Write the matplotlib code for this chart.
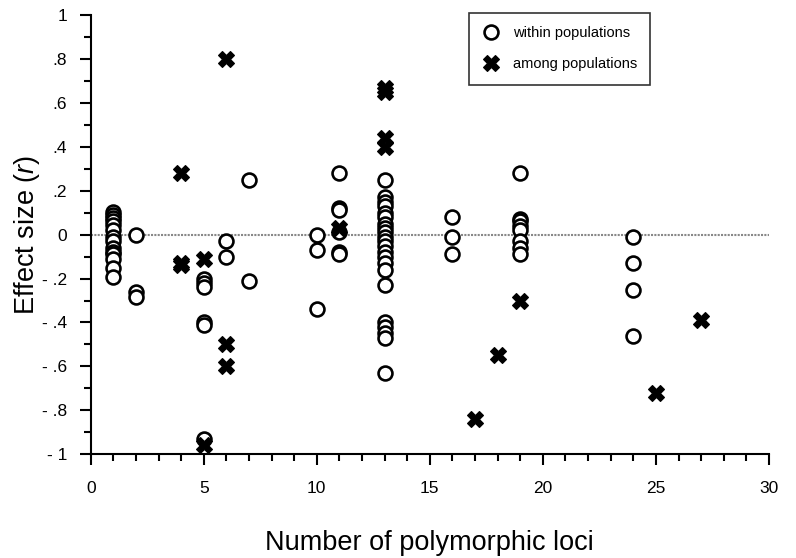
import matplotlib
matplotlib.use("Agg")
import matplotlib.pyplot as plt
from matplotlib.ticker import MultipleLocator, FixedLocator

plt.rcParams['font.family'] = ['Liberation Sans', 'DejaVu Sans']
plt.rcParams['mathtext.fontset'] = 'custom'
plt.rcParams['mathtext.it'] = 'Liberation Sans:italic'
plt.rcParams['mathtext.rm'] = 'Liberation Sans'

# within populations (open circles)
within_x = [1]*14 + [2, 2, 2] + [5]*6 + [6, 6] + [7, 7] + [10, 10, 10] + \
           [11]*6 + [13]*22 + [16, 16, 16] + [19]*8 + [24]*4
within_y = [0.105, 0.09, 0.077, 0.06, 0.045, 0.02, -0.01, -0.03, -0.06, -0.077, -0.09, -0.11, -0.15, -0.195,
            0.0, -0.26, -0.285,
            -0.2, -0.22, -0.24, -0.40, -0.41, -0.93,
            -0.03, -0.10,
            0.25, -0.21,
            0.0, -0.07, -0.34,
            0.28, 0.12, 0.11, 0.01, -0.08, -0.09,
            0.25, 0.17, 0.15, 0.13, 0.10, 0.08, 0.05, 0.03, 0.01, -0.01, -0.03, -0.05, -0.08, -0.10, -0.13, -0.16,
            -0.23, -0.40, -0.42, -0.45, -0.47, -0.63,
            0.08, -0.01, -0.09,
            0.28, 0.07, 0.06, 0.04, 0.02, -0.03, -0.06, -0.09,
            -0.01, -0.13, -0.25, -0.46]

# among populations (filled crosses)
among_x = [4, 4, 4, 5, 5, 6, 6, 6, 11, 13, 13, 13, 13, 17, 18, 19, 25, 27]
among_y = [0.28, -0.13, -0.14, -0.11, -0.96, 0.80, -0.50, -0.60, 0.03,
           0.67, 0.65, 0.44, 0.40, -0.84, -0.55, -0.30, -0.72, -0.39]

x_ticks = [0, 5, 10, 15, 20, 25, 30]
y_ticks = [-1, -0.8, -0.6, -0.4, -0.2, 0, 0.2, 0.4, 0.6, 0.8, 1]
y_ticklabels = ['- 1', '- .8', '- .6', '- .4', '- .2', '0', '.2', '.4', '.6', '.8', '1']

fig = plt.figure(figsize=(7.96, 5.58), dpi=100)
ax = fig.add_axes([0.114, 0.186, 0.852, 0.787])

ax.axhline(0, color='#888888', lw=1.5, ls=(0, (1, 0.6)), zorder=1)

ax.plot(within_x, within_y, ls='none', marker='o', markersize=10,
        markerfacecolor='white', markeredgecolor='black', markeredgewidth=1.9,
        zorder=3, label='within populations')
ax.plot(among_x, among_y, ls='none', marker='X', markersize=11,
        markerfacecolor='black', markeredgecolor='black', markeredgewidth=0.8,
        zorder=4, label='among populations')

ax.set_xlim(0, 30)
ax.set_ylim(-1, 1)
ax.xaxis.set_major_locator(FixedLocator(x_ticks))
ax.xaxis.set_minor_locator(MultipleLocator(1))
ax.yaxis.set_major_locator(FixedLocator(y_ticks))
ax.yaxis.set_minor_locator(MultipleLocator(0.1))
ax.set_yticklabels(y_ticklabels)
ax.set_xticklabels([str(v) for v in x_ticks])

for s in ['top', 'right']:
    ax.spines[s].set_visible(False)
for s in ['left', 'bottom']:
    ax.spines[s].set_linewidth(1.5)

ax.tick_params(axis='both', which='major', direction='out', length=8, width=1.5,
               labelsize=12.5)
ax.tick_params(axis='x', which='major', pad=11)
ax.tick_params(axis='y', which='major', pad=9)
ax.tick_params(axis='both', which='minor', direction='out', length=5, width=1.5)

ax.set_xlabel('Number of polymorphic loci', fontsize=19.5, labelpad=25)
ax.set_ylabel(r'Effect size ($\mathit{r}$)', fontsize=19.5, labelpad=0)

leg = ax.legend(loc='upper left', bbox_to_anchor=(0.558, 1.005), frameon=True,
                fancybox=False, edgecolor='black', fontsize=10.5,
                handletextpad=0.9, borderpad=0.9, labelspacing=1.2,
                handlelength=1.2, borderaxespad=0)
leg.get_frame().set_linewidth(1.2)

fig.savefig('out.png', dpi=100)
